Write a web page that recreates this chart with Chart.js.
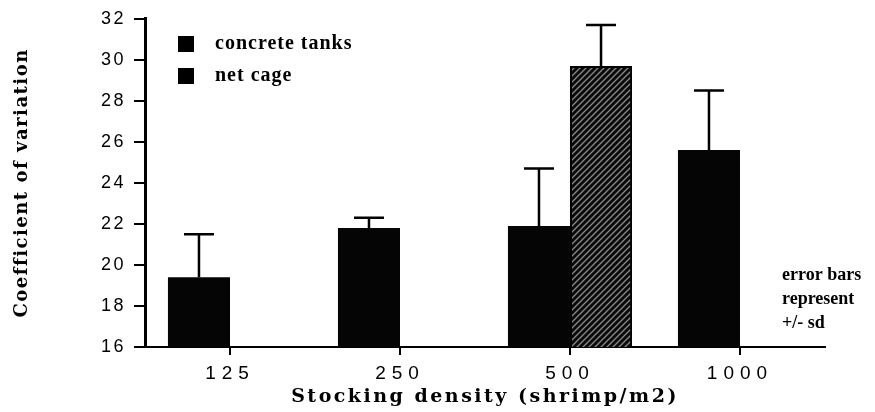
<!DOCTYPE html>
<html lang="en">
  <head>
    <meta charset="utf-8" />
    <title>Coefficient of variation</title>
    <script src="https://cdn.jsdelivr.net/npm/chart.js@4.4.0/dist/chart.umd.min.js"></script>
    <style>
      html, body { margin: 0; padding: 0; background: #fff; }
      #wrap { width: 875px; height: 412px; }
    </style>
  </head>
  <body>
    <div id="wrap"><canvas id="cv"></canvas></div>

    <script>
      // data
      var densities = ["125", "250", "500", "1000"];
      var concreteCV = [19.4, 21.8, 21.9, 25.6];
      var concreteSD = [2.1, 0.5, 2.8, 2.9];
      var cageCV = [null, null, 29.7, null];
      var cageSD = [null, null, 2.0, null];
      var yTicks = [16, 18, 20, 22, 24, 26, 28, 30, 32];
      var noteLines = ["error bars", "represent", "+/- sd"];

      // diagonal hatch for the net cage bar
      function hatch() {
        var c = document.createElement("canvas");
        c.width = 6;
        c.height = 6;
        var g = c.getContext("2d");
        g.fillStyle = "#0a0a0a";
        g.fillRect(0, 0, 6, 6);
        g.strokeStyle = "#8a8a8a";
        g.lineWidth = 1.3;
        g.beginPath();
        g.moveTo(0, 6); g.lineTo(6, 0);
        g.moveTo(-1, 1); g.lineTo(1, -1);
        g.moveTo(5, 7); g.lineTo(7, 5);
        g.stroke();
        return g.createPattern(c, "repeat");
      }

      // wraps a scale's draw step so its text gets extra letter spacing
      function spaced(scale, fn, px) {
        var orig = scale[fn];
        scale[fn] = function () {
          var ctx = this.ctx;
          ctx.save();
          ctx.letterSpacing = px + "px";
          orig.apply(this, arguments);
          ctx.restore();
        };
      }

      var letterPlugin = {
        id: "letters",
        beforeDraw: function (chart) {
          var x = chart.scales.x, y = chart.scales.y;
          if (!x._spaced) {
            spaced(x, "drawLabels", 6);
            spaced(x, "drawTitle", 2.5);
            x._spaced = true;
          }
          if (!y._spaced) {
            spaced(y, "drawLabels", 2.5);
            spaced(y, "drawTitle", 1.5);
            y._spaced = true;
          }
        },
      };

      var errorBars = {
        id: "errorBars",
        afterDatasetsDraw: function (chart) {
          var ctx = chart.ctx;
          var ys = chart.scales.y;
          var sds = [concreteSD, cageSD];
          ctx.save();
          ctx.strokeStyle = "#000";
          ctx.lineWidth = 2.5;
          chart.data.datasets.forEach(function (ds, di) {
            var meta = chart.getDatasetMeta(di);
            meta.data.forEach(function (bar, i) {
              var v = ds.data[i];
              var sd = sds[di][i];
              if (v == null || sd == null) return;
              var top = ys.getPixelForValue(v + sd);
              ctx.beginPath();
              ctx.moveTo(bar.x, bar.y);
              ctx.lineTo(bar.x, top);
              ctx.moveTo(bar.x - 15, top);
              ctx.lineTo(bar.x + 15, top);
              ctx.stroke();
            });
          });
          ctx.restore();
        },
      };

      // legend in the upper left of the plot, plus the note on the right
      var annotations = {
        id: "annotations",
        afterDraw: function (chart) {
          var ctx = chart.ctx;
          ctx.save();
          ctx.fillStyle = "#000";
          ctx.textBaseline = "middle";
          ctx.font = "bold 20px 'Liberation Serif'";
          ctx.letterSpacing = "1px";
          chart.data.datasets.forEach(function (ds, i) {
            var y = 44 + i * 32;
            ctx.fillRect(178, y - 8, 16, 16);
            ctx.fillText(ds.label, 215, y);
          });
          ctx.font = "bold 18px 'Liberation Serif'";
          ctx.letterSpacing = "0px";
          noteLines.forEach(function (t, i) {
            ctx.fillText(t, 782, 275 + i * 24);
          });
          ctx.restore();
        },
      };

      var chart = new Chart(document.getElementById("cv"), {
        type: "bar",
        data: {
          labels: densities,
          datasets: [
            {
              label: "concrete tanks",
              data: concreteCV,
              backgroundColor: "#050505",
              borderWidth: 0,
            },
            {
              label: "net cage",
              data: cageCV,
              backgroundColor: hatch(),
              borderColor: "#000",
              borderWidth: 2,
            },
          ],
        },
        options: {
          responsive: true,
          maintainAspectRatio: false,
          animation: false,
          categoryPercentage: 0.73,
          barPercentage: 1,
          layout: { padding: { left: 0, right: 50, top: 15, bottom: 0 } },
          plugins: {
            legend: { display: false },
            tooltip: { enabled: false },
          },
          scales: {
            x: {
              grid: {
                offset: false,
                drawOnChartArea: false,
                tickLength: 8,
                color: "#000",
                lineWidth: 2,
              },
              border: { color: "#000", width: 2 },
              ticks: {
                color: "#000",
                padding: 7,
                font: { family: "'Liberation Sans'", size: 19 },
              },
              title: {
                display: true,
                text: "Stocking density (shrimp/m2)",
                color: "#000",
                padding: { top: 0, bottom: 4 },
                font: { family: "'DejaVu Serif'", size: 19, weight: "bold" },
              },
              afterFit: function (s) { s.height = 65; },
            },
            y: {
              min: 16,
              max: 32,
              afterBuildTicks: function (s) {
                s.ticks = yTicks.map(function (v) { return { value: v }; });
              },
              grid: {
                drawOnChartArea: false,
                tickLength: 11,
                color: "#000",
                lineWidth: 2,
              },
              border: { color: "#000", width: 3 },
              ticks: {
                color: "#000",
                padding: 8,
                font: { family: "'Liberation Sans'", size: 18 },
              },
              title: {
                display: true,
                text: "Coefficient of variation",
                color: "#000",
                padding: { top: 12, bottom: 0 },
                font: { family: "'DejaVu Serif'", size: 18, weight: "bold" },
              },
              afterFit: function (s) { s.width = 145; },
            },
          },
        },
        plugins: [letterPlugin, errorBars, annotations],
      });
    </script>
  </body>
</html>
